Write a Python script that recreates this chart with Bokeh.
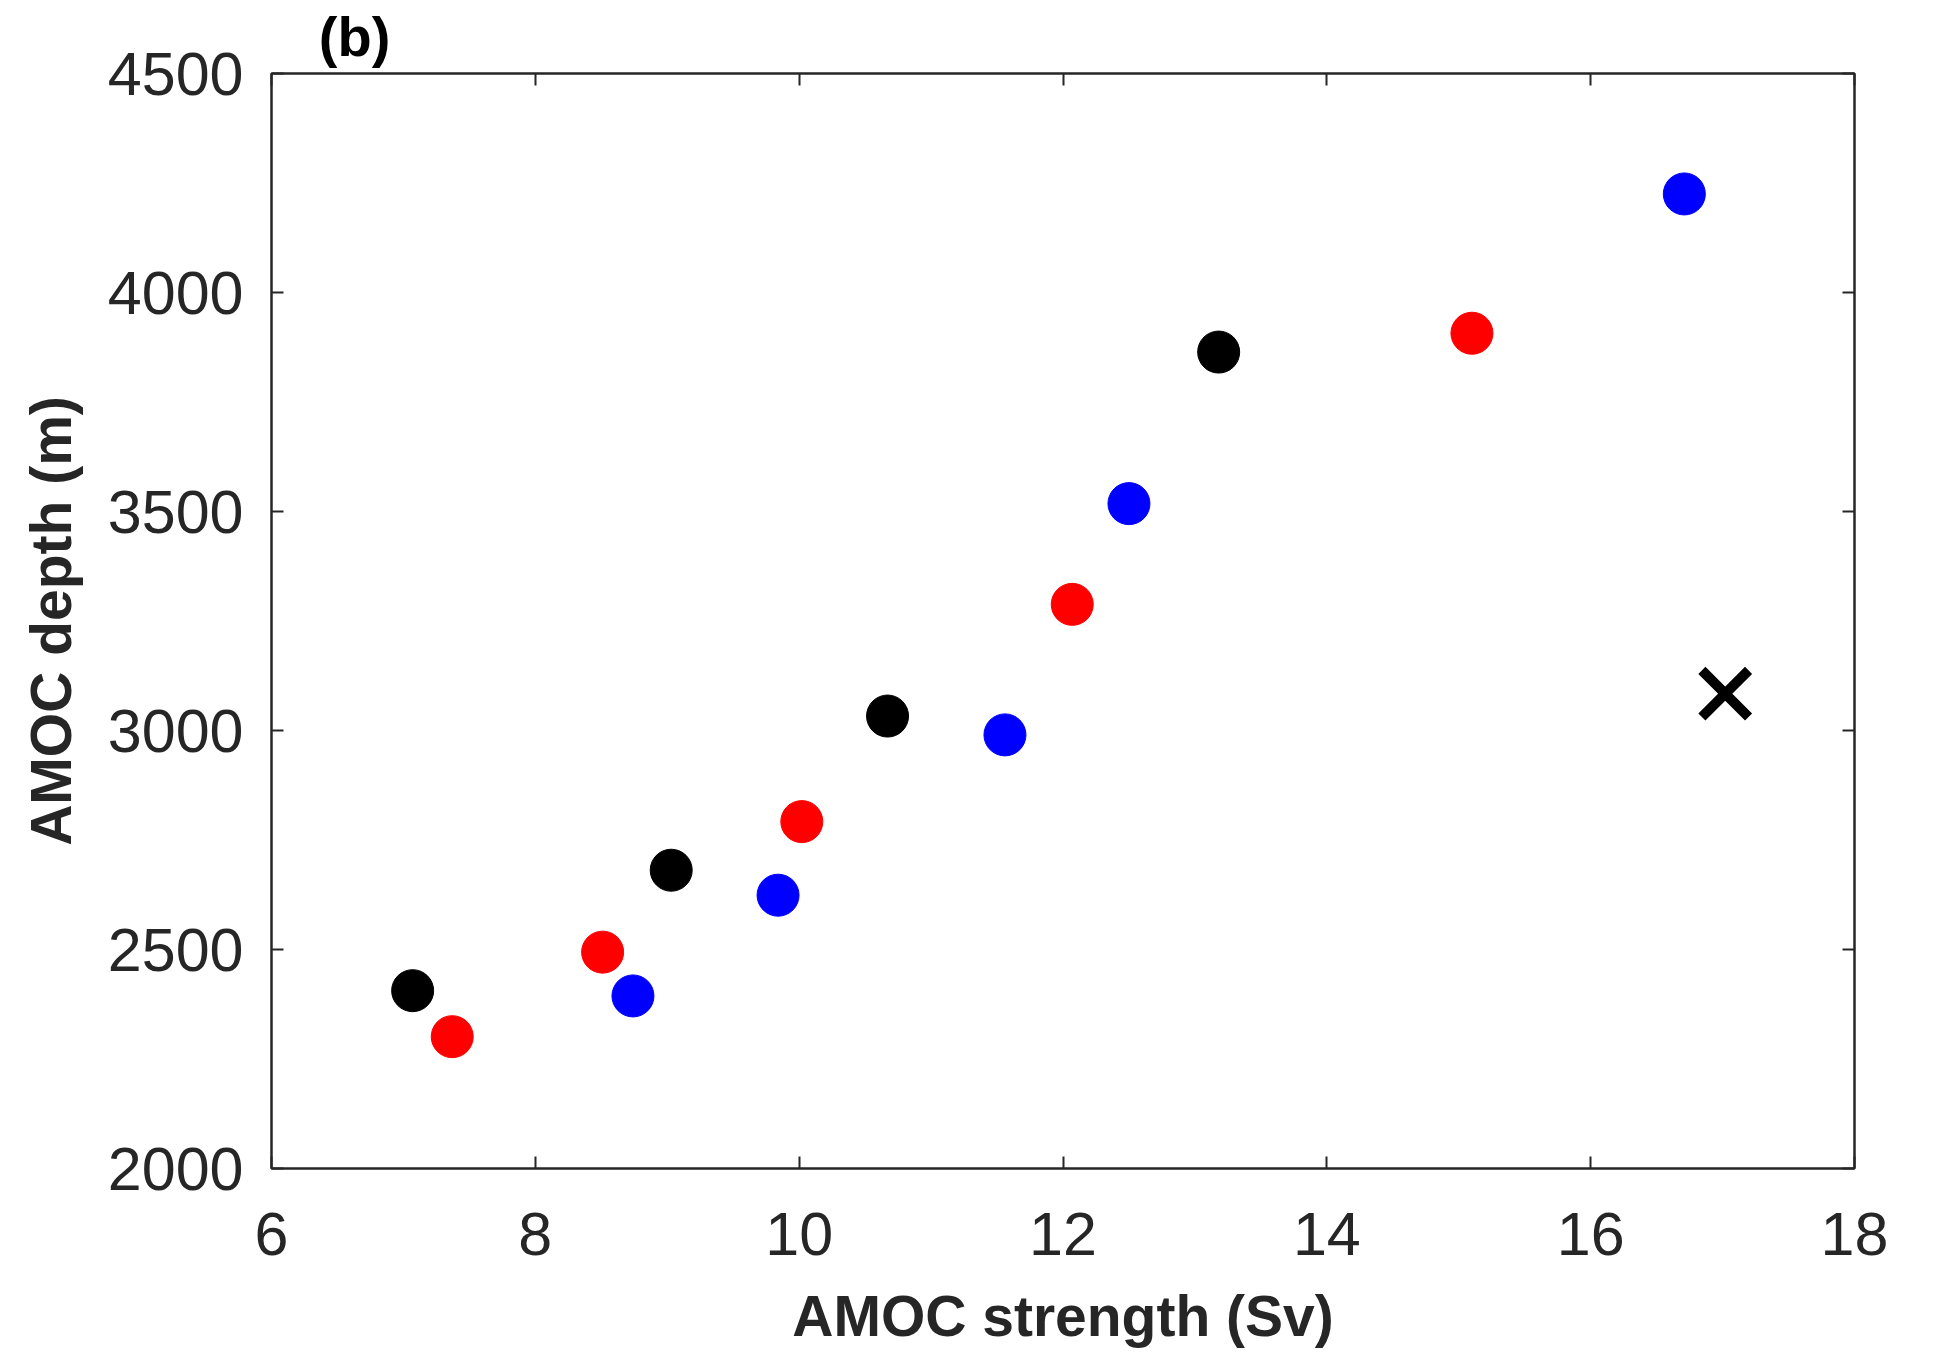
from bokeh.plotting import figure
from bokeh.models import LinearAxis, FixedTicker, Range1d
from bokeh.embed import file_html
from bokeh.resources import INLINE

# data
black_x = [7.07, 9.03, 10.67, 13.18]
black_y = [2406, 2681, 3033, 3864]
red_x = [7.37, 8.51, 10.02, 12.07, 15.10]
red_y = [2301, 2494, 2792, 3288, 3907]
blue_x = [8.74, 9.84, 11.56, 12.50, 16.71]
blue_y = [2394, 2624, 2990, 3518, 4225]
obs_x = [17.02]
obs_y = [3084]
x_ticks = [6, 8, 10, 12, 14, 16, 18]
y_ticks = [2000, 2500, 3000, 3500, 4000, 4500]
panel_tag = "(b)"
panel_tag_x = 6.63

FONT = "Liberation Sans"
TXT = "#262626"

p = figure(width=1948, height=1368, output_backend="svg", toolbar_location=None,
           x_range=Range1d(6, 18), y_range=Range1d(2000, 4500),
           min_border_left=271, min_border_right=94, min_border_top=73, min_border_bottom=200)
p.grid.visible = False
p.outline_line_color = TXT
p.outline_line_width = 2
p.background_fill_color = "white"
p.border_fill_color = "white"

for ax, ticks in ((p.xaxis[0], x_ticks), (p.yaxis[0], y_ticks)):
    ax.ticker = FixedTicker(ticks=ticks)
    ax.major_tick_in = 12
    ax.major_tick_out = 0
    ax.minor_tick_in = 0
    ax.minor_tick_out = 0
    ax.axis_line_color = TXT
    ax.axis_line_width = 2
    ax.major_tick_line_color = TXT
    ax.major_tick_line_width = 2
    ax.major_label_text_font = FONT
    ax.major_label_text_font_size = "61px"
    ax.major_label_text_color = TXT
    ax.axis_label_text_font = FONT
    ax.axis_label_text_font_size = "57px"
    ax.axis_label_text_font_style = "bold"
    ax.axis_label_text_color = TXT

p.xaxis[0].axis_label = "AMOC strength (Sv)"
p.yaxis[0].axis_label = "AMOC depth (m)"
p.xaxis[0].major_label_standoff = 44
p.yaxis[0].major_label_standoff = 28
p.xaxis[0].axis_label_standoff = 26
p.yaxis[0].axis_label_standoff = 22

for loc, ticks in (("above", x_ticks), ("right", y_ticks)):
    ax = LinearAxis(ticker=FixedTicker(ticks=ticks))
    ax.major_tick_in = 12
    ax.major_tick_out = 0
    ax.minor_tick_in = 0
    ax.minor_tick_out = 0
    ax.axis_line_color = TXT
    ax.axis_line_width = 2
    ax.major_tick_line_color = TXT
    ax.major_tick_line_width = 2
    ax.major_label_overrides = {t: "" for t in ticks}
    ax.major_label_text_font_size = "1px"
    ax.major_label_standoff = 0
    p.add_layout(ax, loc)

# panel tag "(b)" as a label-only axis above the frame
tag = LinearAxis(ticker=FixedTicker(ticks=[panel_tag_x]))
tag.major_label_overrides = {panel_tag_x: panel_tag}
tag.axis_line_color = None
tag.major_tick_line_color = None
tag.minor_tick_line_color = None
tag.major_tick_in = 0
tag.major_tick_out = 0
tag.minor_tick_in = 0
tag.minor_tick_out = 0
tag.major_label_standoff = 6
tag.major_label_text_font = FONT
tag.major_label_text_font_size = "56px"
tag.major_label_text_font_style = "bold"
tag.major_label_text_color = "black"
p.add_layout(tag, "above")

S = 42
p.scatter(black_x, black_y, size=S, color="black", marker="circle")
p.scatter(red_x, red_y, size=S, color="#ff0000", marker="circle")
p.scatter(blue_x, blue_y, size=S, color="#0000ff", marker="circle")
p.scatter(obs_x, obs_y, size=66, marker="x", line_color="black", line_width=10)

open("out.html", "w").write(file_html(p, INLINE))
